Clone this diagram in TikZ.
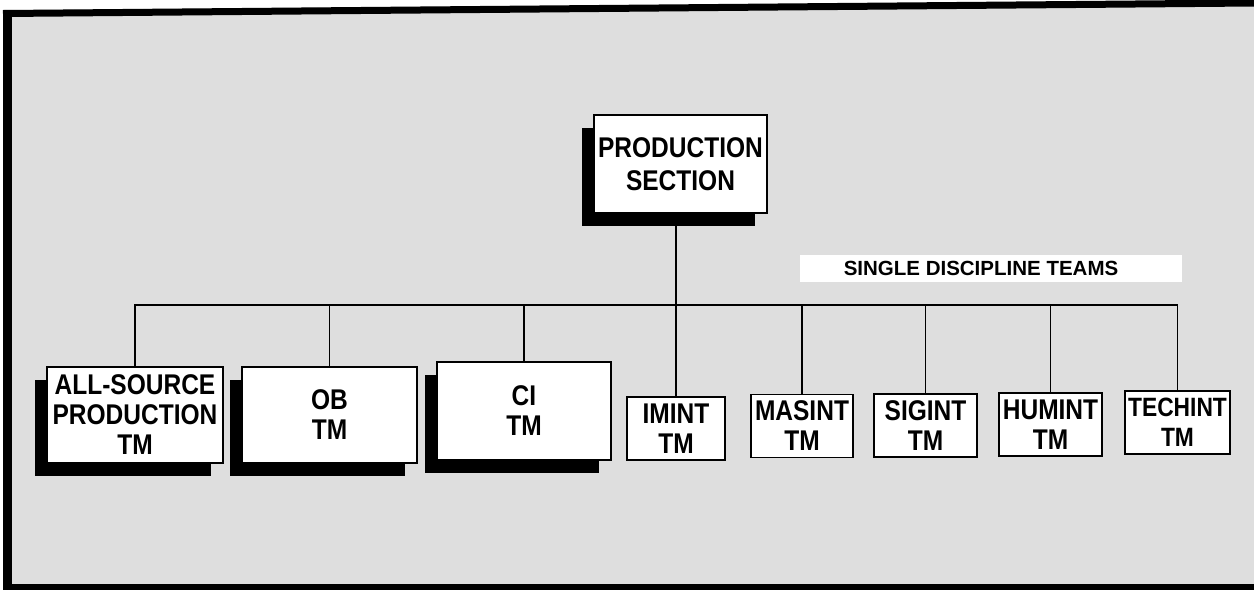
\documentclass[tikz,border=0pt]{standalone}
\usepackage{fontspec}
\setmainfont{Liberation Sans}[FakeStretch=0.86]
\newfontfamily\plainsans{Liberation Sans}
\usetikzlibrary{shadows}

\begin{document}
\begin{tikzpicture}[
            x=1pt, y=-1pt,
            every node/.style = {draw=black, line width=1.5pt, fill=white, inner sep=0pt, align=center, font=\bfseries\fontsize{28.5}{30}\selectfont},
            team/.style = {minimum height=63pt},
            bigteam/.style = {drop shadow={shadow xshift=-12pt, shadow yshift=-13pt, fill=black, opacity=1}},
            teamsbar/.style = {draw=none, minimum width=382pt, minimum height=27pt, font=\plainsans\bfseries\fontsize{20.5}{24}\selectfont},
            link/.style = {line width=1.8pt}
          ]
  \useasboundingbox (0,0) rectangle (1254,590);
  \fill[black!13] (4,10) -- (1254,1) -- (1254,587) -- (4,587) -- cycle;
  \draw[line width=7pt] (3,13.5) -- (1254,3);
  \draw[line width=9pt] (7.5,10) -- (7.5,590);
  \draw[line width=6pt] (3,587) -- (1254,587);

  \node[bigteam, minimum width=173pt, minimum height=98pt, font=\bfseries\fontsize{28.5}{33}\selectfont] (prod) at (680.5,164) {PRODUCTION\\SECTION};
  \node[teamsbar] (single) at (991,268.5) {\hspace*{-20pt}SINGLE DISCIPLINE TEAMS};

  \node[bigteam, minimum width=176pt, minimum height=96pt] (src) at (135,415) {ALL-SOURCE\\PRODUCTION\\TM};
  \node[bigteam, minimum width=175pt, minimum height=96pt] (ob) at (329.5,415) {OB\\TM};
  \node[bigteam, minimum width=174pt, minimum height=98pt] (ci) at (524,411) {CI\\TM};
  \node[team, minimum width=98pt] (imint) at (676,428.5) {IMINT\\TM};
  \node[team, minimum width=102pt] (masint) at (802,426) {MASINT\\TM};
  \node[team, minimum width=103pt] (sigint) at (925.5,425.5) {SIGINT\\TM};
  \node[team, minimum width=103pt] (humint) at (1050.5,424.5) {HUMINT\\TM};
  \node[team, minimum width=105pt, font=\bfseries\fontsize{26.5}{30}\selectfont] (techint) at (1177.5,422.5) {TECHINT\\TM};

  \coordinate (bar) at (0,305);
  \draw[link] (src.north) |- (techint.north |- bar) -- (techint.north);
  \foreach \n in {ob,ci,masint,sigint,humint}
    \draw[link] (\n.north) -- (\n.north |- bar);
  \draw[link] (prod.south -| imint.north) -- (imint.north);
\end{tikzpicture}
\end{document}
